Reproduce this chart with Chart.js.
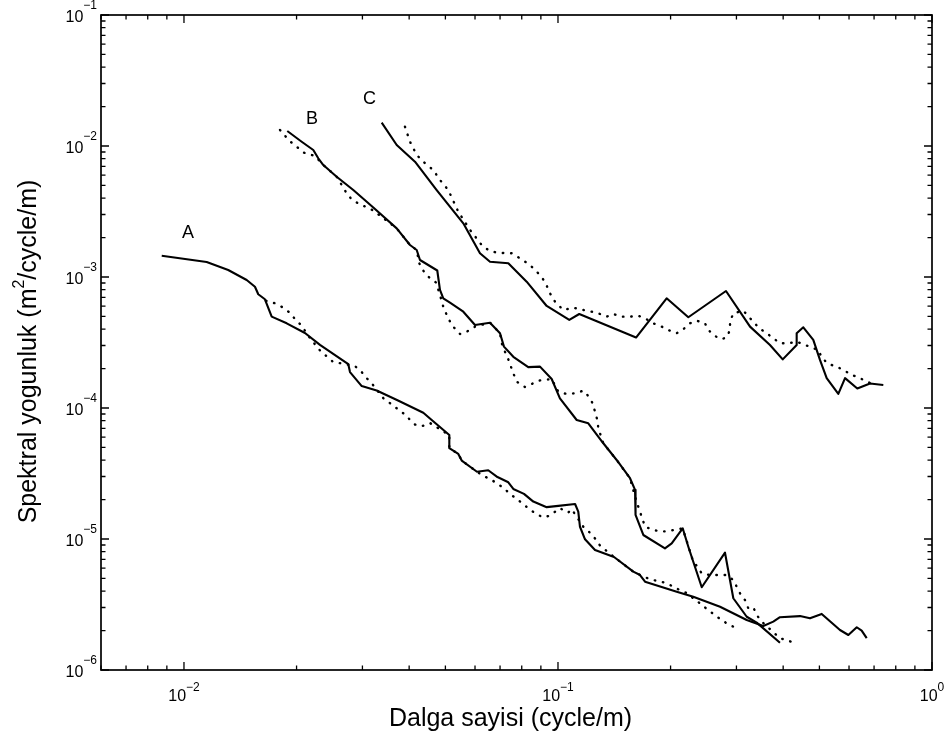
<!DOCTYPE html>
<html>
<head>
<meta charset="utf-8">
<title>Spektral yogunluk</title>
<script src="https://cdn.jsdelivr.net/npm/chart.js@4.4.1/dist/chart.umd.min.js"></script>
<style>
  html, body { margin: 0; padding: 0; background: #fff; }
  canvas { display: block; }
</style>
</head>
<body>
<canvas id="spectra" width="951" height="746"></canvas>
<script>
// Wavenumber (cycle/m) and spectral density (m^2/cycle/m) for profiles A, B and C.
// Solid = measured spectrum, dotted = companion spectrum.
const aSolidX = [0.00872, 0.0115, 0.01313, 0.01471, 0.01548, 0.0158, 0.01646, 0.01716, 0.01882, 0.02106, 0.0231, 0.0275, 0.02779, 0.02987, 0.03275, 0.03735, 0.04364, 0.04596, 0.05122, 0.05122, 0.05413, 0.05528, 0.06073, 0.0651, 0.06889, 0.07365, 0.07596, 0.08111, 0.0859, 0.09328, 0.1002, 0.1111, 0.1133, 0.1145, 0.1181, 0.1256, 0.1412, 0.159, 0.1657, 0.1709, 0.2077, 0.23, 0.2712, 0.3196, 0.3539, 0.3764, 0.3922, 0.4437, 0.4718, 0.5071, 0.5675, 0.5975, 0.6293, 0.6486, 0.669];
const aSolidY = [1.454e-3, 1.302e-3, 1.131e-3, 9.49e-4, 8.43e-4, 7.38e-4, 6.76e-4, 4.98e-4, 4.43e-4, 3.74e-4, 3.03e-4, 2.16e-4, 1.88e-4, 1.47e-4, 1.36e-4, 1.14e-4, 9.21e-5, 8.10e-5, 6.22e-5, 4.93e-5, 4.46e-5, 3.97e-5, 3.26e-5, 3.35e-5, 2.97e-5, 2.71e-5, 2.41e-5, 2.21e-5, 1.93e-5, 1.75e-5, 1.79e-5, 1.85e-5, 1.62e-5, 1.24e-5, 9.95e-6, 8.24e-6, 7.29e-6, 5.63e-6, 5.31e-6, 4.72e-6, 3.96e-6, 3.63e-6, 3.04e-6, 2.41e-6, 2.17e-6, 2.34e-6, 2.53e-6, 2.58e-6, 2.48e-6, 2.68e-6, 2.02e-6, 1.85e-6, 2.12e-6, 2.00e-6, 1.75e-6];

const aDotX = [0.01657, 0.01751, 0.01836, 0.01912, 0.01981, 0.02055, 0.02115, 0.02172, 0.0231, 0.02507, 0.02641, 0.02866, 0.02987, 0.0308, 0.03202, 0.03411, 0.03555, 0.03859, 0.04146, 0.04321, 0.04547, 0.05122, 0.05122, 0.05413, 0.05528, 0.06073, 0.06291, 0.0658, 0.06869, 0.07141, 0.07443, 0.07755, 0.08075, 0.08416, 0.0877, 0.09135, 0.09519, 0.1012, 0.1065, 0.1088, 0.1169, 0.1212, 0.1256, 0.1295, 0.1412, 0.159, 0.1709, 0.1798, 0.1894, 0.1993, 0.2097, 0.2199, 0.2386, 0.2487, 0.2602, 0.27, 0.2826, 0.2943, 0.3067];
const aDotY = [6.59e-4, 6.30e-4, 5.87e-4, 5.38e-4, 4.78e-4, 4.30e-4, 3.82e-4, 3.42e-4, 2.75e-4, 2.24e-4, 2.19e-4, 2.09e-4, 1.88e-4, 1.69e-4, 1.50e-4, 1.19e-4, 1.09e-4, 9.11e-5, 7.48e-5, 7.25e-5, 7.68e-5, 6.22e-5, 4.93e-5, 4.46e-5, 3.97e-5, 3.26e-5, 3.05e-5, 2.87e-5, 2.66e-5, 2.46e-5, 2.21e-5, 2.02e-5, 1.85e-5, 1.67e-5, 1.55e-5, 1.46e-5, 1.51e-5, 1.72e-5, 1.59e-5, 1.69e-5, 1.24e-5, 1.13e-5, 1.01e-5, 8.92e-6, 7.29e-6, 5.63e-6, 5.10e-6, 4.86e-6, 4.72e-6, 4.46e-6, 4.13e-6, 3.89e-6, 3.26e-6, 2.96e-6, 2.68e-6, 2.48e-6, 2.27e-6, 2.14e-6, 2.17e-6];

const bSolidX = [0.01889, 0.02064, 0.02217, 0.02286, 0.02358, 0.0256, 0.02836, 0.03208, 0.03705, 0.04021, 0.0419, 0.04276, 0.04756, 0.04836, 0.04935, 0.05143, 0.05583, 0.05999, 0.0658, 0.06998, 0.07171, 0.07596, 0.08328, 0.08952, 0.0962, 0.1012, 0.1122, 0.1205, 0.1322, 0.1435, 0.1558, 0.1607, 0.1612, 0.1691, 0.1932, 0.2014, 0.2155, 0.2231, 0.2292, 0.2423, 0.2796, 0.2943, 0.3196, 0.3399, 0.3922];
const bSolidY = [1.302e-2, 1.078e-2, 9.32e-3, 8.06e-3, 7.16e-3, 5.83e-3, 4.61e-3, 3.39e-3, 2.35e-3, 1.755e-3, 1.607e-3, 1.348e-3, 1.121e-3, 7.96e-4, 6.88e-4, 6.37e-4, 5.43e-4, 4.30e-4, 4.48e-4, 3.72e-4, 2.94e-4, 2.46e-4, 2.05e-4, 2.07e-4, 1.665e-4, 1.186e-4, 8.10e-5, 7.64e-5, 5.38e-5, 4.01e-5, 2.91e-5, 2.37e-5, 1.525e-5, 1.073e-5, 8.49e-6, 9.27e-6, 1.207e-5, 8.73e-6, 6.91e-6, 4.28e-6, 7.86e-6, 3.53e-6, 2.55e-6, 2.30e-6, 1.616e-6];

const bDotX = [0.01806, 0.01912, 0.02001, 0.02093, 0.02195, 0.0224, 0.02358, 0.0256, 0.02641, 0.02723, 0.02808, 0.02924, 0.0308, 0.03208, 0.03705, 0.04021, 0.0419, 0.04257, 0.0439, 0.04547, 0.04718, 0.04836, 0.04935, 0.05041, 0.05198, 0.0547, 0.057, 0.05999, 0.0658, 0.06998, 0.07071, 0.07216, 0.07365, 0.07596, 0.07755, 0.08161, 0.08505, 0.08923, 0.0962, 0.1002, 0.1055, 0.1111, 0.1169, 0.1205, 0.1238, 0.1256, 0.1274, 0.1282, 0.1322, 0.1435, 0.1558, 0.1617, 0.1709, 0.1798, 0.1894, 0.1993, 0.2155, 0.2292, 0.2423, 0.2549, 0.2683, 0.2826, 0.2943, 0.3067, 0.3162, 0.3227, 0.3328, 0.3399, 0.3505, 0.3922, 0.4088, 0.4302];
const bDotY = [1.325e-2, 1.098e-2, 9.88e-3, 8.89e-3, 8.54e-3, 8.39e-3, 7.16e-3, 5.83e-3, 5.04e-3, 4.35e-3, 3.92e-3, 3.64e-3, 3.41e-3, 3.22e-3, 2.35e-3, 1.755e-3, 1.607e-3, 1.272e-3, 1.086e-3, 9.78e-4, 9.08e-4, 7.29e-4, 5.93e-4, 5.13e-4, 4.30e-4, 3.67e-4, 3.82e-4, 4.18e-4, 4.48e-4, 3.72e-4, 3.12e-4, 2.69e-4, 2.35e-4, 1.84e-4, 1.59e-4, 1.447e-4, 1.525e-4, 1.621e-4, 1.665e-4, 1.332e-4, 1.279e-4, 1.295e-4, 1.356e-4, 1.235e-4, 1.086e-4, 9.37e-5, 8.10e-5, 7.00e-5, 5.38e-5, 4.01e-5, 2.91e-5, 1.985e-5, 1.241e-5, 1.171e-5, 1.137e-5, 1.157e-5, 1.207e-5, 6.91e-6, 5.47e-6, 5.31e-6, 5.31e-6, 5.31e-6, 4.86e-6, 3.85e-6, 3.42e-6, 2.96e-6, 3.01e-6, 2.63e-6, 2.34e-6, 1.746e-6, 1.694e-6, 1.599e-6];

const cSolidX = [0.03378, 0.03705, 0.04146, 0.04739, 0.05583, 0.06186, 0.0658, 0.07365, 0.08246, 0.09328, 0.1072, 0.114, 0.1617, 0.1952, 0.2231, 0.2813, 0.3262, 0.3688, 0.3989, 0.4347, 0.4347, 0.4528, 0.4815, 0.5017, 0.5229, 0.5617, 0.5855, 0.6314, 0.6827, 0.741];
const cSolidY = [1.506e-2, 1.018e-2, 7.59e-3, 4.61e-3, 2.57e-3, 1.517e-3, 1.309e-3, 1.272e-3, 9.21e-4, 6.01e-4, 4.70e-4, 5.22e-4, 3.45e-4, 6.88e-4, 4.93e-4, 7.82e-4, 4.18e-4, 3.03e-4, 2.35e-4, 3.03e-4, 3.72e-4, 4.13e-4, 3.31e-4, 2.33e-4, 1.69e-4, 1.28e-4, 1.69e-4, 1.41e-4, 1.54e-4, 1.50e-4];

const cDotX = [0.03898, 0.04021, 0.0419, 0.0441, 0.04641, 0.04836, 0.0509, 0.05413, 0.05817, 0.06252, 0.0651, 0.06856, 0.0752, 0.07913, 0.08416, 0.08858, 0.09231, 0.09519, 0.09817, 0.1033, 0.1099, 0.1169, 0.1269, 0.135, 0.1405, 0.1481, 0.1558, 0.1639, 0.1727, 0.1798, 0.1894, 0.1972, 0.2077, 0.2163, 0.2254, 0.2349, 0.2472, 0.2523, 0.2629, 0.274, 0.2826, 0.2884, 0.2884, 0.2943, 0.313, 0.3295, 0.3453, 0.3614, 0.3764, 0.3922, 0.4128, 0.4347, 0.466, 0.4966, 0.508, 0.5281, 0.5563, 0.5855, 0.61, 0.6419, 0.669, 0.7041];
const cDotY = [1.404e-2, 1.078e-2, 8.54e-3, 7.38e-3, 6.56e-3, 5.50e-3, 4.61e-3, 3.15e-3, 2.29e-3, 1.755e-3, 1.607e-3, 1.532e-3, 1.517e-3, 1.389e-3, 1.235e-3, 1.067e-3, 9.21e-4, 7.51e-4, 6.48e-4, 5.60e-4, 5.83e-4, 5.60e-4, 5.34e-4, 4.98e-4, 5.22e-4, 4.98e-4, 4.98e-4, 5.07e-4, 4.76e-4, 4.43e-4, 4.18e-4, 3.94e-4, 3.72e-4, 3.99e-4, 4.43e-4, 4.64e-4, 4.43e-4, 3.94e-4, 3.54e-4, 3.35e-4, 3.47e-4, 3.94e-4, 4.56e-4, 5.28e-4, 5.53e-4, 4.70e-4, 4.06e-4, 3.72e-4, 3.41e-4, 3.12e-4, 3.12e-4, 3.21e-4, 2.97e-4, 2.77e-4, 2.41e-4, 2.17e-4, 2.07e-4, 1.92e-4, 1.79e-4, 1.69e-4, 1.59e-4, 1.50e-4];

// Axis ranges and labelled decades
const xRange = [0.006, 1];
const yRange = [1e-6, 1e-1];
const xDecadeTicks = [0.01, 0.1, 1];
const yDecadeTicks = [1e-6, 1e-5, 1e-4, 1e-3, 1e-2, 1e-1];

// Curve names, anchored in data coordinates
const curveNames = ['A', 'B', 'C'];
const curveNameX = [0.01025, 0.02199, 0.03133];
const curveNameY = [2.206e-3, 1.636e-2, 2.325e-2];

const xTitle = 'Dalga sayisi (cycle/m)';
const yTitleParts = ['Spektral yogunluk (m', '2', '/cycle/m)'];

const FONT = '"Liberation Sans", Arial, Helvetica, sans-serif';

function toPoints(xs, ys) {
  return xs.map((x, i) => ({ x: x, y: ys[i] }));
}
function solidSeries(xs, ys) {
  return {
    data: toPoints(xs, ys),
    showLine: true,
    borderColor: '#000',
    borderWidth: 2.1,
    borderJoinStyle: 'round',
    pointRadius: 0,
    tension: 0,
    fill: false
  };
}
function dottedSeries(xs, ys) {
  return Object.assign(solidSeries(xs, ys), {
    borderWidth: 2.4,
    borderDash: [0.5, 7.8],
    borderCapStyle: 'round'
  });
}

// All 1..9 x 10^k values inside [min, max]
function logTickValues(min, max) {
  const out = [];
  for (let k = Math.floor(Math.log10(min)); k <= Math.ceil(Math.log10(max)); k++) {
    for (let m = 1; m <= 9; m++) {
      const v = m * Math.pow(10, k);
      if (v >= min * 0.999999 && v <= max * 1.000001) out.push({ v: v, major: m === 1 });
    }
  }
  return out;
}

function expText(v) {
  const e = Math.round(Math.log10(v));
  return e < 0 ? '\u2212' + (-e) : String(e);
}

// Boxed axes with inward ticks, power-of-ten labels, titles and curve names
const boxAxesPlugin = {
  id: 'boxAxes',
  afterDatasetsDraw(chart) {
    const ctx = chart.ctx;
    const a = chart.chartArea;
    const xs = chart.scales.x;
    const ys = chart.scales.y;
    ctx.save();
    ctx.strokeStyle = '#000';
    ctx.fillStyle = '#000';

    ctx.lineWidth = 1.7;
    ctx.strokeRect(a.left, a.top, a.right - a.left, a.bottom - a.top);

    ctx.lineWidth = 1.3;
    ctx.beginPath();
    logTickValues(xRange[0], xRange[1]).forEach(t => {
      const px = xs.getPixelForValue(t.v);
      const len = t.major ? 8 : 4.5;
      ctx.moveTo(px, a.bottom); ctx.lineTo(px, a.bottom - len);
      ctx.moveTo(px, a.top); ctx.lineTo(px, a.top + len);
    });
    logTickValues(yRange[0], yRange[1]).forEach(t => {
      const py = ys.getPixelForValue(t.v);
      const len = t.major ? 8 : 4.5;
      ctx.moveTo(a.left, py); ctx.lineTo(a.left + len, py);
      ctx.moveTo(a.right, py); ctx.lineTo(a.right - len, py);
    });
    ctx.stroke();

    const baseFont = '16px ' + FONT;
    const supFont = '12px ' + FONT;
    ctx.textAlign = 'left';
    ctx.textBaseline = 'alphabetic';

    xDecadeTicks.forEach(v => {
      const px = xs.getPixelForValue(v);
      const sup = expText(v);
      ctx.font = baseFont; const wb = ctx.measureText('10').width;
      ctx.font = supFont; const ws = ctx.measureText(sup).width;
      const left = px - (wb + ws) / 2;
      ctx.font = baseFont; ctx.fillText('10', left, a.bottom + 31);
      ctx.font = supFont; ctx.fillText(sup, left + wb, a.bottom + 20.5);
    });

    yDecadeTicks.forEach(v => {
      const py = ys.getPixelForValue(v);
      const sup = expText(v);
      ctx.font = baseFont; const wb = ctx.measureText('10').width;
      ctx.font = supFont; const ws = ctx.measureText(sup).width;
      const right = a.left - 4;
      const left = right - wb - ws;
      ctx.font = baseFont; ctx.fillText('10', left, py + 6.5);
      ctx.font = supFont; ctx.fillText(sup, left + wb, py - 6);
    });

    // x title
    ctx.font = '25px ' + FONT;
    ctx.textAlign = 'center';
    ctx.fillText(xTitle, (a.left + a.right) / 2 - 6, a.bottom + 56);

    // y title, rotated, with superscript
    ctx.save();
    ctx.translate(35.5, (a.top + a.bottom) / 2 + 9);
    ctx.rotate(-Math.PI / 2);
    ctx.textAlign = 'left';
    ctx.font = '25px ' + FONT; const w1 = ctx.measureText(yTitleParts[0]).width;
    ctx.font = '16px ' + FONT; const w2 = ctx.measureText(yTitleParts[1]).width;
    ctx.font = '25px ' + FONT; const w3 = ctx.measureText(yTitleParts[2]).width;
    let sx = -(w1 + w2 + w3) / 2;
    ctx.font = '25px ' + FONT; ctx.fillText(yTitleParts[0], sx, 0);
    ctx.font = '16px ' + FONT; ctx.fillText(yTitleParts[1], sx + w1, -12);
    ctx.font = '25px ' + FONT; ctx.fillText(yTitleParts[2], sx + w1 + w2, 0);
    ctx.restore();

    // curve names
    ctx.font = '18px ' + FONT;
    ctx.textAlign = 'center';
    curveNames.forEach((name, i) => {
      const px = xs.getPixelForValue(curveNameX[i]);
      const py = ys.getPixelForValue(curveNameY[i]);
      ctx.fillText(name, px, py + 6.5);
    });

    ctx.restore();
  }
};

const hiddenAxis = (range) => ({
  type: 'logarithmic',
  min: range[0],
  max: range[1],
  ticks: { display: false },
  grid: { display: false, drawTicks: false },
  border: { display: false },
  title: { display: false }
});

new Chart(document.getElementById('spectra'), {
  type: 'scatter',
  data: {
    datasets: [
      dottedSeries(aDotX, aDotY),
      dottedSeries(bDotX, bDotY),
      dottedSeries(cDotX, cDotY),
      solidSeries(aSolidX, aSolidY),
      solidSeries(bSolidX, bSolidY),
      solidSeries(cSolidX, cSolidY)
    ]
  },
  options: {
    responsive: false,
    animation: false,
    devicePixelRatio: 1,
    layout: { padding: { left: 101, top: 15, right: 19, bottom: 76 } },
    plugins: { legend: { display: false }, tooltip: { enabled: false } },
    scales: { x: hiddenAxis(xRange), y: hiddenAxis(yRange) }
  },
  plugins: [boxAxesPlugin]
});
</script>
</body>
</html>
